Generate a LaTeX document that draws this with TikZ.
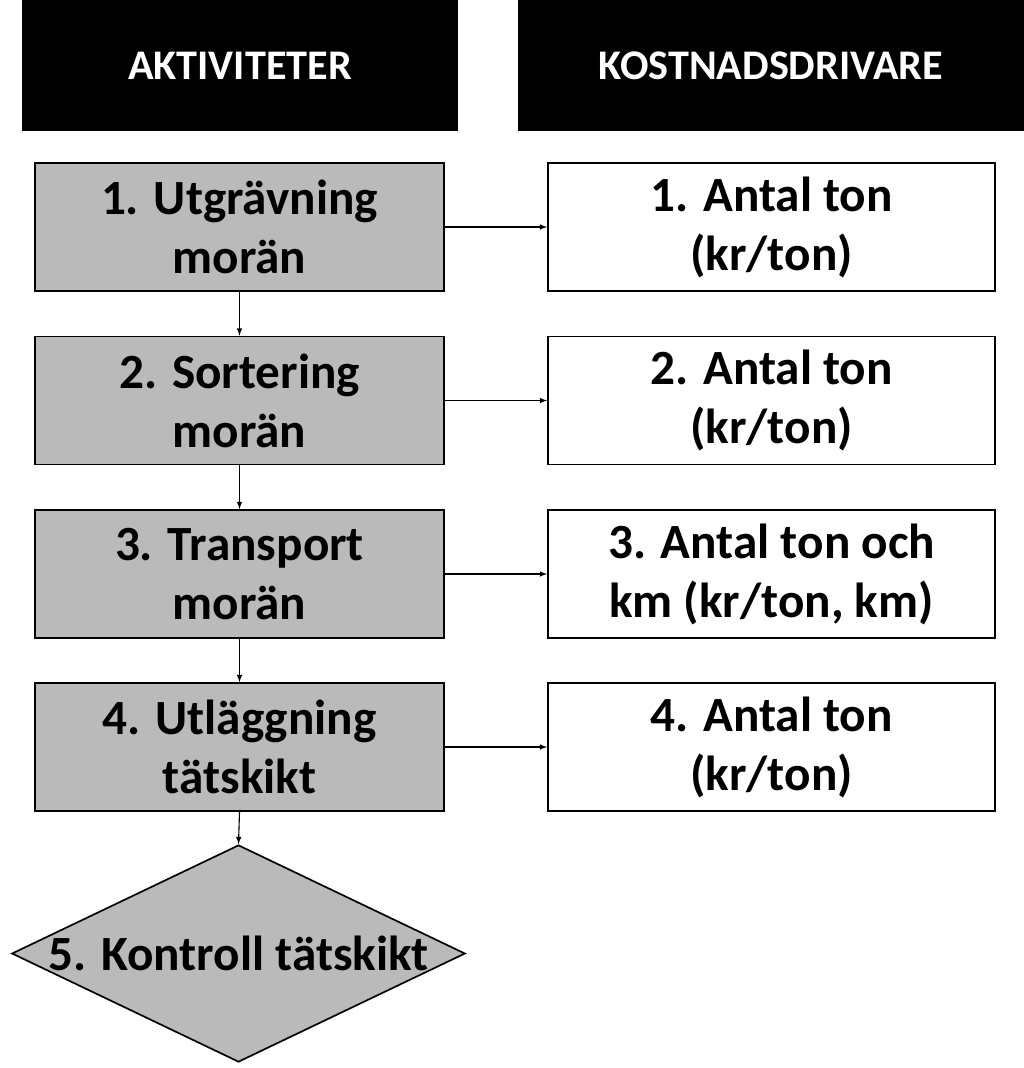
\documentclass[tikz,border=0pt]{standalone}
\usepackage{fontspec}
\setmainfont{Carlito}
\usepackage{tikz}
\usetikzlibrary{shapes.geometric}

\tikzset{
  head/.style={fill=black,text=white,inner sep=0pt,font=\bfseries\fontsize{30}{36}\selectfont},
  act/.style={draw,line width=1.2pt,fill=black!27,align=center,inner sep=0pt,
    minimum width=10.225cm,minimum height=3.2cm,font=\bfseries\fontsize{35}{42}\selectfont},
  drv/.style={act,fill=white,minimum width=11.175cm},
  link/.style={-latex,line width=0.8pt}
}

\begin{document}
\begin{tikzpicture}[x=0.025cm,y=-0.025cm]
  \useasboundingbox (0,0) rectangle (1024,1068);
  % headers
  \node[head,minimum width=10.9cm,minimum height=3.275cm] (hA) at (240,65.5) {AKTIVITETER};
  \node[head,minimum width=12.65cm,minimum height=3.275cm] (hK) at (771,65.5) {KOSTNADSDRIVARE};

  % activities
  \node[act] (a1) at (239.5,227) {1. Utgrävning\\morän};
  \node[act] (a2) at (239.5,400.5) {2. Sortering\\morän};
  \node[act] (a3) at (239.5,574) {3. Transport\\morän};
  \node[act] (a4) at (239.5,747) {4. Utläggning\\tätskikt};
  \node[diamond,draw,line width=1.2pt,fill=black!27,inner sep=0pt,aspect=2.09,
    minimum width=11.325cm,minimum height=5.425cm,font=\bfseries\fontsize{35}{42}\selectfont]
    (a5) at (238.5,953.5) {5. Kontroll tätskikt};

  % cost drivers
  \node[drv] (d1) at (771.5,227) {1. Antal ton\\(kr/ton)};
  \node[drv] (d2) at (771.5,400.5) {2. Antal ton\\(kr/ton)};
  \node[drv] (d3) at (771.5,574) {3. Antal ton och\\km (kr/ton, km)};
  \node[drv] (d4) at (771.5,747) {4. Antal ton\\(kr/ton)};

  % connectors
  \foreach \i in {1,...,4}
    \draw[link] (a\i) -- (d\i);
  \draw[link] (a1.south) -- (a2.north);
  \draw[link] (a2.south) -- (a3.north);
  \draw[link] (a3.south) -- (a4.north);
  \draw[link] (a4.south) -- (a5.north);
\end{tikzpicture}
\end{document}
